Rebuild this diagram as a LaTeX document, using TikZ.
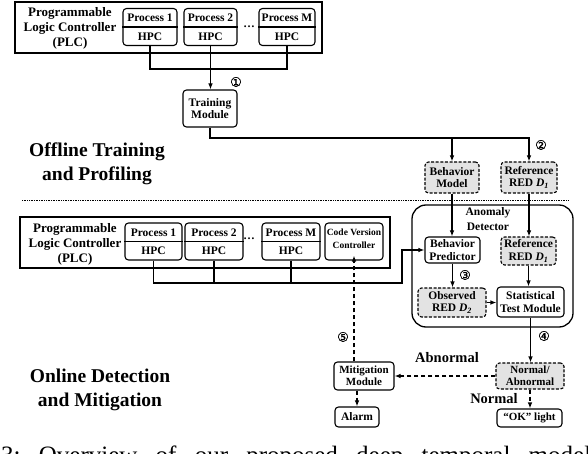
\documentclass[tikz,border=0pt]{standalone}
\usepackage{fontspec}
\setmainfont{Liberation Serif}
\newfontfamily\circfont[FakeBold=0.8]{DejaVu Sans}
\usetikzlibrary{arrows.meta,calc}
\newcommand\procbox[5]{%
  \node[box, minimum width=#4, minimum height=37] (#1) at (#2,#3) {};
  \draw[line width=1.1pt] (#1.west) -- (#1.east);
  \node[txt] (#1t) at ($(#1.center)+(0,-9)$) {#5};
  \node[txt] (#1b) at ($(#1.center)+(0,9.3)$) {HPC};
}
\begin{document}
\begin{tikzpicture}[x=1pt,y=-1pt,
  box/.style={draw, rounded corners=3.5pt, line width=1.1pt, align=center, inner sep=0pt,
              font=\fontsize{11.5}{12.5}\selectfont\bfseries},
  gbox/.style={box, fill=gray!22, dash pattern=on 3pt off 1.6pt},
  txt/.style={inner sep=0pt, align=center, font=\fontsize{11.5}{12.5}\selectfont\bfseries},
  plc/.style={draw, line width=2.6pt, inner sep=0pt},
  conn/.style={line width=1.1pt},
  arr/.style={conn, -{Latex[length=6pt,width=4.6pt]}},
  darr/.style={arr, dash pattern=on 4pt off 3pt},
  lbl/.style={font=\fontsize{13}{15}\selectfont\bfseries, align=center, inner sep=0pt},
  edgelbl/.style={font=\fontsize{14.5}{15}\selectfont\bfseries, inner sep=0pt},
  big/.style={font=\fontsize{19.5}{24}\selectfont\bfseries, align=center, inner sep=0pt},
  num/.style={font=\fontsize{13}{13}\selectfont\circfont, inner sep=0pt},
]
\useasboundingbox (0,0) rectangle (588,454);
\clip (0,0) rectangle (588,454);

% ---------- Offline ----------
\node[plc, minimum width=307, minimum height=51] (plcA) at (168.5,27.5) {};
\node[lbl] (plcAt) at (70,28) {Programmable\\Logic Controller\\(PLC)};
\procbox{pA1}{150}{27}{54}{Process 1}
\procbox{pA2}{210.5}{27}{53}{Process 2}
\procbox{pAM}{287}{27}{56}{Process M}
\node[txt] (dotsA) at (249,27) {\ldots};

\node[box, minimum width=54, minimum height=37] (train) at (210,108.5) {Training\\Module};
\draw[conn] (pA1.south) -- ++(0,23) -| (pAM.south);
\draw[arr] (pA2.south) -- (pA2.south |- train.north);
\node[num] (n1) at (236,82) {①};

\node[gbox, minimum width=54, minimum height=31] (bm) at (452,177.5) {Behavior\\Model};
\node[gbox, minimum width=56, minimum height=31] (ref1) at (529,177.5) {Reference\\RED \textit{D}\textsubscript{\textit{1}}};
\coordinate (bus) at (0,138);
\draw[arr] (train.south) |- (ref1.north |- bus) -- (ref1.north);
\draw[arr] (bm.north |- bus) -- (bm.north);
\node[num] (n2) at (541,145) {②};

\node[big] (off) at (97,163.5) {Offline Training\\and Profiling};

\coordinate (dl) at (22,200);
\coordinate (dr) at (568,200);
\draw[line width=0.8pt, dash pattern=on 0.8pt off 0.9pt] (dl) -- (dr);

% ---------- Online ----------
\node[plc, minimum width=370, minimum height=51] (plcB) at (205,242.5) {};
\node[lbl] (plcBt) at (75,244) {Programmable\\Logic Controller\\(PLC)};
\procbox{pB1}{153.5}{241.5}{57}{Process 1}
\procbox{pB2}{214}{241.5}{58}{Process 2}
\procbox{pBM}{291}{241.5}{58}{Process M}
\node[txt] (dotsB) at (249,239) {\ldots};
\node[box, minimum width=58, minimum height=37] (cvc) at (354,241.5) {};
\node[inner sep=0pt, align=center, font=\fontsize{9.5}{13}\selectfont\bfseries] (cvct) at (354,238.5) {Code Version\\Controller};

\node[draw, rounded corners=14pt, line width=1.3pt, minimum width=161, minimum height=122] (ad) at (492.5,266) {};
\node[txt, font=\fontsize{11.5}{15}\selectfont\bfseries] (adt) at (488,219.5) {Anomaly\\Detector};
\node[box, minimum width=55, minimum height=26] (bp) at (452.5,250) {Behavior\\Predictor};
\node[gbox, minimum width=55, minimum height=28] (ref2) at (528.5,251) {Reference\\RED \textit{D}\textsubscript{\textit{1}}};
\node[gbox, minimum width=68, minimum height=29] (obs) at (452,302.5) {Observed\\RED \textit{D}\textsubscript{\textit{2}}};
\node[box, minimum width=67, minimum height=30] (stat) at (530.5,302) {Statistical\\Test Module};

\coordinate (bb) at (402,283);
\draw[arr] (pB1.south) |- (bb) |- (bp.west);
\draw[conn] (pB2.south) -- (pB2.south |- bb);
\draw[conn] (pBM.south) -- (pBM.south |- bb);

\draw[arr] (bm.south) -- (bm.south |- bp.north);
\draw[arr] (ref1.south) -- (ref1.south |- ref2.north);
\draw[arr] (bp.south) -- (bp.south |- obs.north);
\draw[arr] (ref2.south) -- (ref2.south |- stat.north);
\draw[arr] (obs.east) -- (obs.east -| stat.west);
\node[num] (n3) at (465,275) {③};

\node[gbox, minimum width=68, minimum height=26, font=\fontsize{11}{12}\selectfont\bfseries] (na) at (530,376) {Normal/\\Abnormal};
\node[box, minimum width=60, minimum height=28, font=\fontsize{11}{12}\selectfont\bfseries] (mit) at (364,376) {Mitigation\\Module};
\node[box, minimum width=44, minimum height=20] (alarm) at (357,417) {Alarm};
\node[box, minimum width=65, minimum height=18, font=\fontsize{11}{12}\selectfont\bfseries] (ok) at (529.5,418) {“OK” light};

\draw[arr] (stat.south) -- (stat.south |- na.north);
\node[num] (n4) at (544,336) {④};
\draw[darr] (na.west) -- (na.west -| mit.east);
\node[edgelbl] (abn) at (447,358) {Abnormal};
\draw[darr] (na.south) -- (na.south |- ok.north);
\node[edgelbl] (nor) at (494,399) {Normal};
\draw[darr, shorten >=-5pt] (cvc.south |- mit.north) -- (cvc.south);
\draw[darr] (alarm.north |- mit.south) -- (alarm.north);
\node[num] (n5) at (343,337) {⑤};

\node[big] (on) at (100,390) {Online Detection\\and Mitigation};

\node[anchor=base west, inner sep=0pt, font=\fontsize{25}{25}\selectfont] (cap) at (1,463)
  {\frenchspacing\makebox[590pt][s]{3: Overview of our proposed deep temporal model}};
\end{tikzpicture}
\end{document}
